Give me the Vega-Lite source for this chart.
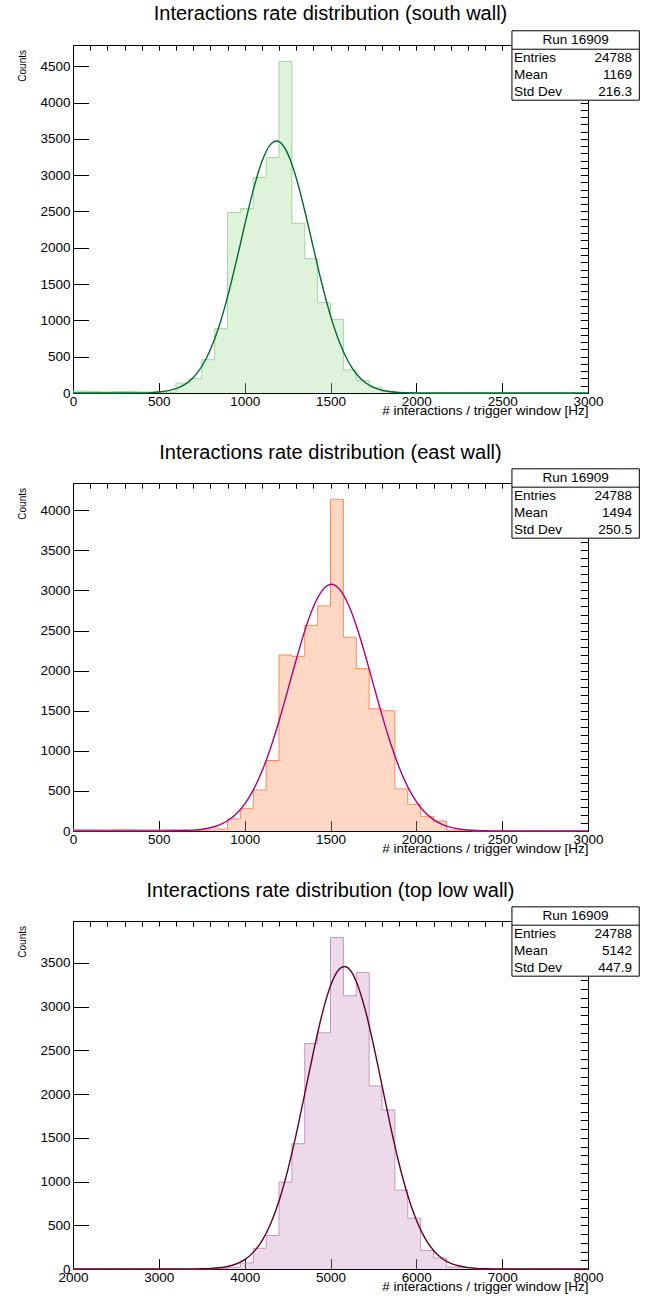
{
"$schema": "https://vega.github.io/schema/vega-lite/v6.json",
"padding": {"left": 16, "top": 3, "right": 2, "bottom": 2},
"spacing": 90,
"bounds": "flush",
"datasets": {
"south_bins": [
{"lo":0,"count":25},{"lo":75,"count":22},{"lo":150,"count":15},{"lo":225,"count":20},{"lo":300,"count":22},{"lo":375,"count":14},{"lo":450,"count":10},{"lo":525,"count":10},
{"lo":600,"count":138},{"lo":675,"count":197},{"lo":750,"count":459},{"lo":825,"count":886},{"lo":900,"count":2484},{"lo":975,"count":2539},{"lo":1050,"count":2966},{"lo":1125,"count":3242},
{"lo":1200,"count":4564},{"lo":1275,"count":2337},{"lo":1350,"count":1850},{"lo":1425,"count":1244},{"lo":1500,"count":1015},{"lo":1575,"count":317},{"lo":1650,"count":170},{"lo":1725,"count":80},
{"lo":1800,"count":25},{"lo":1875,"count":5},{"lo":1950,"count":0},{"lo":2025,"count":0},{"lo":2100,"count":0},{"lo":2175,"count":0},{"lo":2250,"count":0},{"lo":2325,"count":0},
{"lo":2400,"count":0},{"lo":2475,"count":0},{"lo":2550,"count":0},{"lo":2625,"count":0},{"lo":2700,"count":0},{"lo":2775,"count":0},{"lo":2850,"count":0},{"lo":2925,"count":0}
],
"south_fit": [
{"x":0,"y":0},{"x":300,"y":0.3},{"x":400,"y":2.3},{"x":450,"y":5.6},{"x":500,"y":13},{"x":550,"y":29},{"x":600,"y":59},{"x":650,"y":115},{"x":700,"y":211},{"x":750,"y":365},{"x":800,"y":595},{"x":850,"y":913},{"x":900,"y":1321},{"x":950,"y":1799},{"x":1000,"y":2310},{"x":1050,"y":2793},{"x":1100,"y":3184},{"x":1150,"y":3420},{"x":1185,"y":3470},{"x":1200,"y":3461},{"x":1250,"y":3300},{"x":1300,"y":2965},{"x":1350,"y":2510},{"x":1400,"y":2002},{"x":1450,"y":1504},{"x":1500,"y":1065},{"x":1550,"y":711},{"x":1600,"y":447},{"x":1650,"y":265},{"x":1700,"y":148},{"x":1750,"y":78},{"x":1800,"y":38.5},{"x":1850,"y":18},{"x":1900,"y":7.9},{"x":1950,"y":3.3},{"x":2000,"y":1.3},{"x":2100,"y":0.2},{"x":3000,"y":0}
],
"east_bins": [
{"lo":0,"count":18},{"lo":75,"count":18},{"lo":150,"count":15},{"lo":225,"count":20},{"lo":300,"count":18},{"lo":375,"count":15},{"lo":450,"count":15},{"lo":525,"count":18},
{"lo":600,"count":15},{"lo":675,"count":8},{"lo":750,"count":12},{"lo":825,"count":25},{"lo":900,"count":150},{"lo":975,"count":283},{"lo":1050,"count":512},{"lo":1125,"count":879},
{"lo":1200,"count":2195},{"lo":1275,"count":2178},{"lo":1350,"count":2566},{"lo":1425,"count":2808},{"lo":1500,"count":4137},{"lo":1575,"count":2416},{"lo":1650,"count":2025},{"lo":1725,"count":1525},
{"lo":1800,"count":1500},{"lo":1875,"count":525},{"lo":1950,"count":333},{"lo":2025,"count":183},{"lo":2100,"count":125},{"lo":2175,"count":12},{"lo":2250,"count":4},{"lo":2325,"count":0},
{"lo":2400,"count":0},{"lo":2475,"count":0},{"lo":2550,"count":0},{"lo":2625,"count":0},{"lo":2700,"count":0},{"lo":2775,"count":0},{"lo":2850,"count":0},{"lo":2925,"count":0}
],
"east_fit": [
{"x":0,"y":0},{"x":500,"y":0.5},{"x":600,"y":2.5},{"x":650,"y":5.4},{"x":700,"y":11},{"x":750,"y":22},{"x":800,"y":41},{"x":850,"y":74},{"x":900,"y":128},{"x":950,"y":212},{"x":1000,"y":336},{"x":1050,"y":510},{"x":1100,"y":741},{"x":1150,"y":1030},{"x":1200,"y":1371},{"x":1250,"y":1748},{"x":1300,"y":2135},{"x":1350,"y":2496},{"x":1400,"y":2794},{"x":1450,"y":2995},{"x":1505,"y":3078},{"x":1550,"y":3021},{"x":1600,"y":2843},{"x":1650,"y":2562},{"x":1700,"y":2211},{"x":1750,"y":1826},{"x":1800,"y":1445},{"x":1850,"y":1094},{"x":1900,"y":793},{"x":1950,"y":551},{"x":2000,"y":367},{"x":2050,"y":233},{"x":2100,"y":142},{"x":2150,"y":83},{"x":2200,"y":46},{"x":2250,"y":25},{"x":2300,"y":13},{"x":2350,"y":6},{"x":2400,"y":2.9},{"x":2500,"y":0.6},{"x":3000,"y":0}
],
"top_bins": [
{"lo":2000,"count":0},{"lo":2150,"count":0},{"lo":2300,"count":0},{"lo":2450,"count":0},{"lo":2600,"count":0},{"lo":2750,"count":0},{"lo":2900,"count":0},{"lo":3050,"count":0},
{"lo":3200,"count":0},{"lo":3350,"count":0},{"lo":3500,"count":2},{"lo":3650,"count":5},{"lo":3800,"count":19},{"lo":3950,"count":69},{"lo":4100,"count":237},{"lo":4250,"count":383},
{"lo":4400,"count":994},{"lo":4550,"count":1433},{"lo":4700,"count":2579},{"lo":4850,"count":2701},{"lo":5000,"count":3790},{"lo":5150,"count":3125},{"lo":5300,"count":3392},{"lo":5450,"count":2094},
{"lo":5600,"count":1819},{"lo":5750,"count":902},{"lo":5900,"count":581},{"lo":6050,"count":211},{"lo":6200,"count":126},{"lo":6350,"count":22},{"lo":6500,"count":20},{"lo":6650,"count":3},
{"lo":6800,"count":0},{"lo":6950,"count":0},{"lo":7100,"count":0},{"lo":7250,"count":0},{"lo":7400,"count":0},{"lo":7550,"count":0},{"lo":7700,"count":0},{"lo":7850,"count":0}
],
"top_fit": [
{"x":2000,"y":0},{"x":3000,"y":0},{"x":3400,"y":1.2},{"x":3500,"y":2.8},{"x":3600,"y":6.4},{"x":3700,"y":14},{"x":3800,"y":29},{"x":3900,"y":57},{"x":4000,"y":107},{"x":4100,"y":190},{"x":4200,"y":320},{"x":4300,"y":512},{"x":4400,"y":778},{"x":4500,"y":1123},{"x":4600,"y":1539},{"x":4700,"y":2004},{"x":4800,"y":2476},{"x":4900,"y":2906},{"x":5000,"y":3239},{"x":5100,"y":3428},{"x":5160,"y":3460},{"x":5200,"y":3446},{"x":5300,"y":3289},{"x":5400,"y":2982},{"x":5500,"y":2567},{"x":5600,"y":2099},{"x":5700,"y":1629},{"x":5800,"y":1201},{"x":5900,"y":841},{"x":6000,"y":560},{"x":6100,"y":353},{"x":6200,"y":212},{"x":6300,"y":120},{"x":6400,"y":65},{"x":6500,"y":34},{"x":6600,"y":16},{"x":6700,"y":7.6},{"x":6800,"y":3.3},{"x":7000,"y":0.55},{"x":8000,"y":0}
]
},
"vconcat": [
{
"title": {"text": "Interactions rate distribution (south wall)"},
"width": 515, "height": 348,
"resolve": {"axis": {"x": "independent", "y": "independent"}},
"layer": [
{"data": {"name": "south_bins"}, "mark": {"type": "area", "interpolate": "step-after", "color": "#a1d99b", "opacity": 0.35},
 "encoding": {
  "x": {"field": "lo", "type": "quantitative", "scale": {"domain": [0, 3000], "nice": false, "zero": false},
        "axis": {"values": [0,500,1000,1500,2000,2500,3000], "format": "d", "tickSize": -10.4, "labelPadding": 12, "labelFlush": false, "labelOverlap": false, "title": "# interactions / trigger window [Hz]", "titleX": 515, "titleY": 21, "titleAlign": "right", "titleBaseline": "alphabetic", "titleFontSize": 13.5, "titleAngle": 0}},
  "y": {"field": "count", "type": "quantitative", "scale": {"domain": [0, 4792], "nice": false},
        "axis": {"values": [0,500,1000,1500,2000,2500,3000,3500,4000,4500], "format": "d", "tickSize": -15.5, "labelPadding": 18.5, "labelOverlap": false, "labelFlush": false, "title": "Counts", "titleX": -48, "titleY": 4.5, "titleAngle": 270, "titleAlign": "right", "titleBaseline": "alphabetic", "titleFontSize": 10}}
 }},
{"data": {"name": "south_bins"}, "mark": {"type": "line", "interpolate": "step-after", "color": "#a1d99b", "strokeWidth": 1},
 "encoding": {
  "x": {"field": "lo", "type": "quantitative", "axis": {"tickCount": 30, "tickSize": -5.2, "labels": false, "title": null}},
  "y": {"field": "count", "type": "quantitative", "axis": {"tickCount": 48, "tickSize": -7.7, "labels": false, "title": null}}
 }},
{"data": {"name": "south_fit"}, "mark": {"type": "line", "interpolate": "monotone", "color": "#006d2c", "strokeWidth": 1.4},
 "encoding": {"x": {"field": "x", "type": "quantitative", "axis": null}, "y": {"field": "y", "type": "quantitative", "axis": null}}},
{"data": {"values": [{}]}, "mark": {"type": "rect", "fill": "white", "stroke": "black", "strokeWidth": 1},
 "encoding": {"x": {"datum": 2557, "axis": null}, "x2": {"datum": 3299}, "y": {"datum": 4988, "axis": null}, "y2": {"datum": 4032}}},
{"data": {"values": [{}]}, "mark": {"type": "rule", "color": "black", "strokeWidth": 1},
 "encoding": {"x": {"datum": 2557, "axis": null}, "x2": {"datum": 3299}, "y": {"datum": 4734, "axis": null}}},
{"data": {"values": [{}]}, "mark": {"type": "text", "text": "Run 16909", "align": "center", "baseline": "middle"},
 "encoding": {"x": {"datum": 2928, "axis": null}, "y": {"datum": 4861, "axis": null}}},
{"data": {"values": [{}]}, "mark": {"type": "text", "text": ["Entries", "Mean", "Std Dev"], "align": "left", "baseline": "middle", "lineHeight": 17},
 "encoding": {"x": {"datum": 2569, "axis": null}, "y": {"datum": 4617, "axis": null}}},
{"data": {"values": [{}]}, "mark": {"type": "text", "text": ["24788", "1169", "216.3"], "align": "right", "baseline": "middle", "lineHeight": 17},
 "encoding": {"x": {"datum": 3256, "axis": null}, "y": {"datum": 4617, "axis": null}}}
]
},
{
"title": {"text": "Interactions rate distribution (east wall)"},
"width": 515, "height": 348,
"resolve": {"axis": {"x": "independent", "y": "independent"}},
"layer": [
{"data": {"name": "east_bins"}, "mark": {"type": "area", "interpolate": "step-after", "color": "#fc8d59", "opacity": 0.35},
 "encoding": {
  "x": {"field": "lo", "type": "quantitative", "scale": {"domain": [0, 3000], "nice": false, "zero": false},
        "axis": {"values": [0,500,1000,1500,2000,2500,3000], "format": "d", "tickSize": -10.4, "labelPadding": 12, "labelFlush": false, "labelOverlap": false, "title": "# interactions / trigger window [Hz]", "titleX": 515, "titleY": 21, "titleAlign": "right", "titleBaseline": "alphabetic", "titleFontSize": 13.5, "titleAngle": 0}},
  "y": {"field": "count", "type": "quantitative", "scale": {"domain": [0, 4340], "nice": false},
        "axis": {"values": [0,500,1000,1500,2000,2500,3000,3500,4000], "format": "d", "tickSize": -15.5, "labelPadding": 18.5, "labelOverlap": false, "labelFlush": false, "title": "Counts", "titleX": -48, "titleY": 4.5, "titleAngle": 270, "titleAlign": "right", "titleBaseline": "alphabetic", "titleFontSize": 10}}
 }},
{"data": {"name": "east_bins"}, "mark": {"type": "line", "interpolate": "step-after", "color": "#fc8d59", "strokeWidth": 1},
 "encoding": {
  "x": {"field": "lo", "type": "quantitative", "axis": {"tickCount": 30, "tickSize": -5.2, "labels": false, "title": null}},
  "y": {"field": "count", "type": "quantitative", "axis": {"tickCount": 43, "tickSize": -7.7, "labels": false, "title": null}}
 }},
{"data": {"name": "east_fit"}, "mark": {"type": "line", "interpolate": "monotone", "color": "#ae017e", "strokeWidth": 1.4},
 "encoding": {"x": {"field": "x", "type": "quantitative", "axis": null}, "y": {"field": "y", "type": "quantitative", "axis": null}}},
{"data": {"values": [{}]}, "mark": {"type": "rect", "fill": "white", "stroke": "black", "strokeWidth": 1},
 "encoding": {"x": {"datum": 2557, "axis": null}, "x2": {"datum": 3299}, "y": {"datum": 4517, "axis": null}, "y2": {"datum": 3652}}},
{"data": {"values": [{}]}, "mark": {"type": "rule", "color": "black", "strokeWidth": 1},
 "encoding": {"x": {"datum": 2557, "axis": null}, "x2": {"datum": 3299}, "y": {"datum": 4288, "axis": null}}},
{"data": {"values": [{}]}, "mark": {"type": "text", "text": "Run 16909", "align": "center", "baseline": "middle"},
 "encoding": {"x": {"datum": 2928, "axis": null}, "y": {"datum": 4402, "axis": null}}},
{"data": {"values": [{}]}, "mark": {"type": "text", "text": ["Entries", "Mean", "Std Dev"], "align": "left", "baseline": "middle", "lineHeight": 17},
 "encoding": {"x": {"datum": 2569, "axis": null}, "y": {"datum": 4182, "axis": null}}},
{"data": {"values": [{}]}, "mark": {"type": "text", "text": ["24788", "1494", "250.5"], "align": "right", "baseline": "middle", "lineHeight": 17},
 "encoding": {"x": {"datum": 3256, "axis": null}, "y": {"datum": 4182, "axis": null}}}
]
},
{
"title": {"text": "Interactions rate distribution (top low wall)"},
"width": 515, "height": 348,
"resolve": {"axis": {"x": "independent", "y": "independent"}},
"layer": [
{"data": {"name": "top_bins"}, "mark": {"type": "area", "interpolate": "step-after", "color": "#c994c7", "opacity": 0.35},
 "encoding": {
  "x": {"field": "lo", "type": "quantitative", "scale": {"domain": [2000, 8000], "nice": false, "zero": false},
        "axis": {"values": [2000,3000,4000,5000,6000,7000,8000], "format": "d", "tickSize": -10.4, "labelPadding": 12, "labelFlush": false, "labelOverlap": false, "title": "# interactions / trigger window [Hz]", "titleX": 515, "titleY": 21, "titleAlign": "right", "titleBaseline": "alphabetic", "titleFontSize": 13.5, "titleAngle": 0}},
  "y": {"field": "count", "type": "quantitative", "scale": {"domain": [0, 3980], "nice": false},
        "axis": {"values": [0,500,1000,1500,2000,2500,3000,3500], "format": "d", "tickSize": -15.5, "labelPadding": 18.5, "labelOverlap": false, "labelFlush": false, "title": "Counts", "titleX": -48, "titleY": 4.5, "titleAngle": 270, "titleAlign": "right", "titleBaseline": "alphabetic", "titleFontSize": 10}}
 }},
{"data": {"name": "top_bins"}, "mark": {"type": "line", "interpolate": "step-after", "color": "#c994c7", "strokeWidth": 1},
 "encoding": {
  "x": {"field": "lo", "type": "quantitative", "axis": {"tickCount": 30, "tickSize": -5.2, "labels": false, "title": null}},
  "y": {"field": "count", "type": "quantitative", "axis": {"tickCount": 40, "tickSize": -7.7, "labels": false, "title": null}}
 }},
{"data": {"name": "top_fit"}, "mark": {"type": "line", "interpolate": "monotone", "color": "#67001f", "strokeWidth": 1.4},
 "encoding": {"x": {"field": "x", "type": "quantitative", "axis": null}, "y": {"field": "y", "type": "quantitative", "axis": null}}},
{"data": {"values": [{}]}, "mark": {"type": "rect", "fill": "white", "stroke": "black", "strokeWidth": 1},
 "encoding": {"x": {"datum": 7114, "axis": null}, "x2": {"datum": 8597}, "y": {"datum": 4142, "axis": null}, "y2": {"datum": 3349}}},
{"data": {"values": [{}]}, "mark": {"type": "rule", "color": "black", "strokeWidth": 1},
 "encoding": {"x": {"datum": 7114, "axis": null}, "x2": {"datum": 8597}, "y": {"datum": 3932, "axis": null}}},
{"data": {"values": [{}]}, "mark": {"type": "text", "text": "Run 16909", "align": "center", "baseline": "middle"},
 "encoding": {"x": {"datum": 7855, "axis": null}, "y": {"datum": 4037, "axis": null}}},
{"data": {"values": [{}]}, "mark": {"type": "text", "text": ["Entries", "Mean", "Std Dev"], "align": "left", "baseline": "middle", "lineHeight": 17},
 "encoding": {"x": {"datum": 7138, "axis": null}, "y": {"datum": 3835, "axis": null}}},
{"data": {"values": [{}]}, "mark": {"type": "text", "text": ["24788", "5142", "447.9"], "align": "right", "baseline": "middle", "lineHeight": 17},
 "encoding": {"x": {"datum": 8512, "axis": null}, "y": {"datum": 3835, "axis": null}}}
]
}
],
"config": {
 "font": "Liberation Sans",
 "background": "white",
 "view": {"stroke": "black", "strokeWidth": 1},
 "title": {"fontSize": 20, "fontWeight": "normal", "font": "Liberation Sans", "color": "black", "anchor": "middle", "frame": "group", "baseline": "alphabetic", "offset": 5.8},
 "axis": {"grid": false, "domain": false, "tickColor": "black", "tickWidth": 1, "labelColor": "black", "labelFont": "Liberation Sans", "labelFontSize": 13.5, "titleFont": "Liberation Sans", "titleFontWeight": "normal", "titleColor": "black", "zindex": 1},
 "text": {"font": "Liberation Sans", "fontSize": 13.5, "color": "black"}
}
}
